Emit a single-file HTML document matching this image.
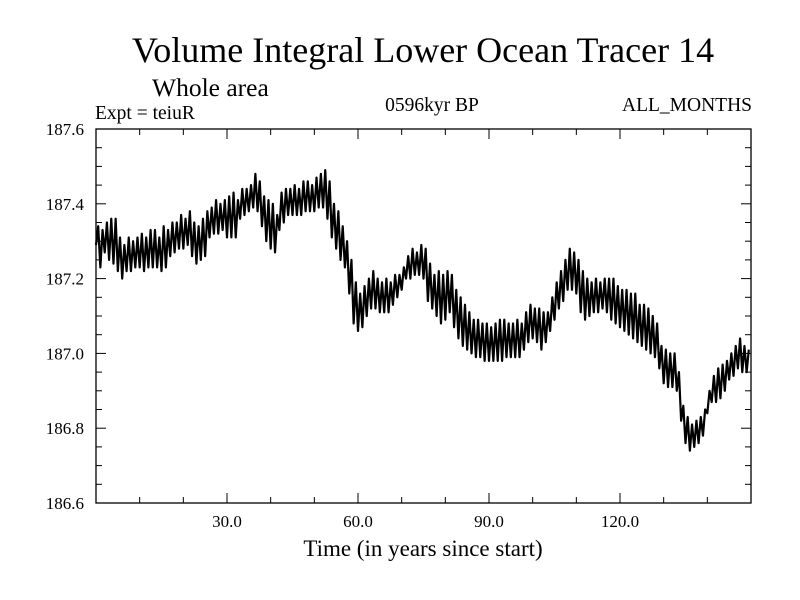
<!DOCTYPE html>
<html><head><meta charset="utf-8"><style>
body{margin:0;background:#fff;}
svg{display:block;font-family:"Liberation Serif",serif;}
</style></head><body>
<svg id="chart" width="800" height="600">
<rect width="800" height="600" fill="#fff"/>
<text x="423" y="62" font-size="36" text-anchor="middle">Volume Integral Lower Ocean Tracer 14</text>
<text x="152" y="96" font-size="25.5">Whole area</text>
<text x="95" y="119" font-size="19.5">Expt = teiuR</text>
<text x="432" y="111" font-size="19.5" text-anchor="middle">0596kyr BP</text>
<text x="752" y="111" font-size="19.5" text-anchor="end">ALL_MONTHS</text>
<text x="423" y="556" font-size="23" text-anchor="middle">Time (in years since start)</text>
<g id="axes"></g>
<g id="plot"></g>
</svg>
<script>
const xTicks=[30,60,90,120];
const xTickLabels=["30.0","60.0","90.0","120.0"];
const yTicks=[186.6,186.8,187.0,187.2,187.4,187.6];
const yTickLabels=["186.6","186.8","187.0","187.2","187.4","187.6"];
const yearHigh=[187.34,187.33,187.35,187.36,187.36,187.31,187.29,187.31,187.30,187.31,187.32,187.31,187.33,187.33,187.31,187.34,187.33,187.35,187.35,187.37,187.36,187.38,187.35,187.34,187.36,187.38,187.39,187.41,187.40,187.41,187.42,187.43,187.41,187.44,187.44,187.45,187.48,187.46,187.42,187.41,187.40,187.37,187.43,187.44,187.44,187.45,187.44,187.46,187.46,187.45,187.47,187.48,187.49,187.46,187.40,187.38,187.34,187.30,187.25,187.19,187.16,187.18,187.20,187.22,187.20,187.19,187.20,187.19,187.21,187.21,187.23,187.26,187.28,187.27,187.29,187.28,187.24,187.21,187.22,187.21,187.22,187.21,187.17,187.15,187.13,187.11,187.09,187.09,187.08,187.08,187.07,187.08,187.09,187.09,187.08,187.08,187.09,187.08,187.11,187.13,187.12,187.12,187.11,187.11,187.15,187.19,187.22,187.25,187.28,187.27,187.25,187.22,187.20,187.19,187.20,187.19,187.20,187.20,187.20,187.18,187.17,187.17,187.16,187.16,187.13,187.13,187.12,187.10,187.08,187.02,187.01,187.00,187.00,186.95,186.86,186.83,186.81,186.82,186.83,186.85,186.90,186.94,186.96,186.97,186.98,187.00,187.02,187.04,187.02,187.01];
const yearLow=[187.29,187.23,187.27,187.25,187.24,187.22,187.20,187.22,187.22,187.23,187.23,187.22,187.23,187.23,187.23,187.22,187.23,187.26,187.27,187.28,187.28,187.29,187.26,187.24,187.25,187.26,187.31,187.32,187.32,187.33,187.31,187.31,187.31,187.36,187.37,187.38,187.39,187.38,187.34,187.30,187.28,187.27,187.33,187.35,187.37,187.37,187.37,187.37,187.38,187.38,187.38,187.39,187.39,187.36,187.31,187.28,187.25,187.23,187.16,187.08,187.06,187.07,187.10,187.12,187.12,187.11,187.11,187.11,187.13,187.15,187.17,187.20,187.20,187.21,187.21,187.20,187.14,187.12,187.10,187.08,187.09,187.11,187.07,187.04,187.02,187.01,187.00,186.99,186.99,186.98,186.98,186.98,186.98,186.98,186.99,186.99,186.99,186.99,187.01,187.03,187.04,187.03,187.01,187.03,187.06,187.09,187.12,187.14,187.17,187.17,187.16,187.11,187.09,187.10,187.11,187.11,187.12,187.11,187.09,187.08,187.07,187.06,187.05,187.04,187.03,187.02,187.01,187.00,186.99,186.96,186.92,186.91,186.91,186.90,186.82,186.76,186.74,186.75,186.76,186.78,186.84,186.87,186.87,186.88,186.90,186.93,186.94,186.96,186.95,186.95];

const L=96,R=751,T=129,B=503,X0=0,X1=150,Y0=186.6,Y1=187.6;
const sx=v=>L+(v-X0)/(X1-X0)*(R-L);
const sy=v=>B-(v-Y0)/(Y1-Y0)*(B-T);
const NS="http://www.w3.org/2000/svg";
const axes=document.getElementById('axes'),plot=document.getElementById('plot');
function mk(tag,attrs,parent){const e=document.createElementNS(NS,tag);for(const k in attrs)e.setAttribute(k,attrs[k]);parent.appendChild(e);return e;}

let d="";
for(let i=0;i<yearHigh.length;i++){
  d+=(i===0?"M":"L")+sx(i).toFixed(2)+","+sy(yearLow[i]).toFixed(2);
  d+="L"+sx(i+0.5).toFixed(2)+","+sy(yearHigh[i]).toFixed(2);
}
const line=mk('path',{d:d,fill:'none',stroke:'#000','stroke-width':2.2,'stroke-linejoin':'round'},plot);



const fr=mk('rect',{x:L,y:T,width:R-L,height:B-T,fill:'none',stroke:'#000','stroke-width':1.3},axes);



for(let v=10;v<X1;v+=10){
  const maj=v%30===0,len=maj?10:6,x=sx(v);
  mk('line',{x1:x,y1:B,x2:x,y2:B-len,stroke:'#000','stroke-width':1},axes);
  mk('line',{x1:x,y1:T,x2:x,y2:T+len,stroke:'#000','stroke-width':1},axes);
}
xTicks.forEach((v,i)=>{
  const t=mk('text',{x:sx(v),y:B+24,'font-size':17,'text-anchor':'middle'},axes);
  t.textContent=xTickLabels[i];
  
  
});
for(let k=1;k<20;k++){
  const v=Y0+k*0.05,maj=k%4===0,len=maj?10:6,y=sy(v);
  mk('line',{x1:L,y1:y,x2:L+len,y2:y,stroke:'#000','stroke-width':1},axes);
  mk('line',{x1:R,y1:y,x2:R-len,y2:y,stroke:'#000','stroke-width':1},axes);
}
yTicks.forEach((v,i)=>{
  const t=mk('text',{x:L-12,y:sy(v)+6,'font-size':17,'text-anchor':'end'},axes);
  t.textContent=yTickLabels[i];
  
  
});
</script>
</body></html>
